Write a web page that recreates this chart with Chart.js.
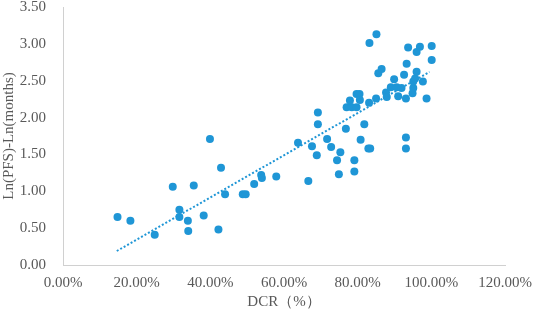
<!DOCTYPE html>
<html>
<head>
<meta charset="utf-8">
<script src="https://cdn.jsdelivr.net/npm/chart.js@4"></script>
<style>
  html, body { margin: 0; padding: 0; background: #fff; }
  #wrap { width: 533px; height: 311px; }
</style>
</head>
<body>
<div id="wrap"><canvas id="dcr"></canvas></div>
<script>
// DCR (fraction) for each study
const dcr = [
    0.148, 0.183, 0.249, 0.298, 0.316, 0.316, 0.339, 0.340, 0.355, 0.382,
    0.399, 0.422, 0.429, 0.440, 0.488, 0.496, 0.519, 0.538, 0.540, 0.579,
    0.638, 0.666, 0.676, 0.689, 0.692, 0.692, 0.717, 0.728, 0.744, 0.749,
    0.753, 0.768, 0.791, 0.791, 0.808, 0.818, 0.829, 0.834, 0.770, 0.784,
    0.797, 0.779, 0.797, 0.805, 0.806, 0.831, 0.850, 0.832, 0.851, 0.856,
    0.865, 0.877, 0.879, 0.890, 0.899, 0.906, 0.910, 0.919, 0.926, 0.931,
    0.933, 0.937, 0.949, 0.951, 0.951, 0.956, 0.960, 0.960, 0.969, 0.977,
    0.987, 1.001, 1.001, 0.931, 0.931
];

// Ln(PFS)-Ln(months)
const lnPfs = [
    0.65, 0.60, 0.41, 1.06, 0.75, 0.65, 0.60, 0.46, 1.08, 0.67,
    1.71, 0.48, 1.32, 0.96, 0.96, 0.96, 1.10, 1.22, 1.18, 1.20,
    1.66, 1.14, 1.61, 1.49, 2.07, 1.91, 1.71, 1.60, 1.42, 1.23,
    1.53, 1.85, 1.42, 1.27, 1.70, 1.91, 1.58, 1.58, 2.14, 2.14,
    2.14, 2.23, 2.32, 2.32, 2.24, 2.20, 2.26, 3.01, 3.13, 2.60,
    2.66, 2.34, 2.28, 2.41, 2.52, 2.41, 2.29, 2.40, 2.58, 2.26,
    2.73, 2.95, 2.33, 2.40, 2.49, 2.53, 2.62, 2.89, 2.96, 2.49,
    2.26, 2.97, 2.78, 1.73, 1.58
];

// dotted linear trendline, ends
const trendX = [0.146, 0.995];
const trendY = [0.19, 2.62];

const xTicks = [0, 0.2, 0.4, 0.6, 0.8, 1.0, 1.2];
const yTicks = [0, 0.5, 1.0, 1.5, 2.0, 2.5, 3.0, 3.5];

const blue = '#1f96d6';
const grey = '#595959';
const serif = "'Liberation Serif', 'Times New Roman', serif";

const points = dcr.map((x, i) => ({ x: x, y: lnPfs[i] }));
const trend = trendX.map((x, i) => ({ x: x, y: trendY[i] }));

new Chart(document.getElementById('dcr'), {
    type: 'scatter',
    data: {
        datasets: [
            {
                label: 'studies',
                data: points,
                backgroundColor: blue,
                borderWidth: 0,
                pointRadius: 4,
                pointHoverRadius: 4
            },
            {
                label: 'trend',
                type: 'line',
                data: trend,
                borderColor: blue,
                borderWidth: 2,
                borderDash: [2, 2],
                pointRadius: 0,
                fill: false
            }
        ]
    },
    options: {
        responsive: true,
        maintainAspectRatio: false,
        animation: false,
        layout: { padding: { left: 0, right: 28, top: 7, bottom: 0 } },
        plugins: {
            legend: { display: false },
            tooltip: { enabled: false }
        },
        scales: {
            x: {
                type: 'linear',
                min: 0,
                max: 1.2,
                afterBuildTicks: s => { s.ticks = xTicks.map(v => ({ value: v })); },
                afterFit: s => { s.height = 46; },
                grid: { display: false },
                border: { display: true, color: '#d0d0d0', width: 1 },
                ticks: {
                    color: grey,
                    padding: 1,
                    font: { family: serif, size: 15 },
                    callback: v => (v * 100).toFixed(2) + '%'
                },
                title: {
                    display: true,
                    text: 'DCR（%）',
                    color: grey,
                    font: { family: serif, size: 15 },
                    padding: { top: 0, bottom: 0 }
                }
            },
            y: {
                min: 0,
                max: 3.5,
                afterBuildTicks: s => { s.ticks = yTicks.map(v => ({ value: v })); },
                // keep the plot top where the reference has it
                afterFit: s => { s.width = 63; s.paddingTop = 0; s.paddingBottom = 0; },
                grid: { display: false },
                border: { display: true, color: '#d0d0d0', width: 1 },
                ticks: {
                    color: grey,
                    padding: 9,
                    font: { family: serif, size: 15 },
                    callback: v => v.toFixed(2)
                },
                title: {
                    display: true,
                    text: 'Ln(PFS)-Ln(months)',
                    color: grey,
                    font: { family: serif, size: 15 },
                    padding: { top: 0, bottom: 0 }
                }
            }
        }
    }
});
</script>
</body>
</html>
